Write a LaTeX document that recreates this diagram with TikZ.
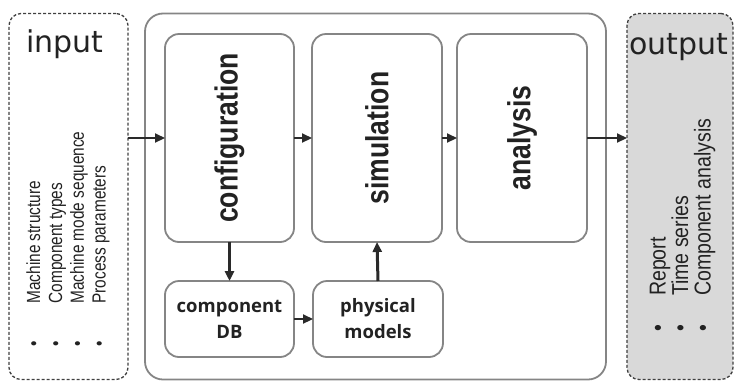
\documentclass[tikz,border=0pt]{standalone}
\usepackage{fontspec}
\setmainfont{Liberation Sans}
\newfontfamily\dvs{DejaVu Sans}
\newfontfamily\osans{Open Sans}
\newfontfamily\condA[FakeStretch=0.81]{Liberation Sans}
\newfontfamily\condB[FakeStretch=0.85]{Liberation Sans}
\newfontfamily\condC[FakeStretch=0.83]{Liberation Sans}
\usetikzlibrary{arrows.meta}
\definecolor{boxgray}{HTML}{858585}
\definecolor{arrgray}{HTML}{2A2A2A}
\definecolor{outfill}{HTML}{D9D9D9}
\definecolor{dashgray}{HTML}{404040}
\definecolor{txt}{HTML}{222222}
\begin{document}
\begin{tikzpicture}[x=1pt,y=-1pt,
  box/.style={draw=boxgray, line width=1.8pt, rounded corners=14pt, inner sep=0pt, outer sep=0pt},
  dashbox/.style={draw=dashgray, line width=1.3pt, dash pattern=on 3pt off 2pt, rounded corners=12pt, inner sep=0pt, outer sep=0pt},
  biglabel/.style={rotate=90, font=\condC\bfseries\fontsize{32}{36}\selectfont, text=txt, inner sep=0pt},
  smalllabel/.style={align=center, font=\osans\bfseries\fontsize{18.5}{26}\selectfont, text=txt, inner sep=0pt},
  arr/.style={draw=arrgray, line width=2.2pt, -{Triangle[length=10pt,width=9pt]}},
  varr/.style={arr, line width=3pt},
]
\useasboundingbox (0,0) rectangle (734,381);
% outer boxes
\node[dashbox, minimum width=119pt, minimum height=366pt] (inbox) at (68.5,196.5) {};
\node[box, rounded corners=18pt, minimum width=461pt, minimum height=366pt] (main) at (375.5,196.5) {};
\node[dashbox, fill=outfill, minimum width=106pt, minimum height=366pt] (outbox) at (680,196.5) {};
% inner boxes
\node[box, minimum width=129pt, minimum height=208pt] (conf) at (229.5,138) {};
\node[box, minimum width=130pt, minimum height=208pt] (sim) at (377,138) {};
\node[box, minimum width=130pt, minimum height=208pt] (ana) at (522,138) {};
\node[box, minimum width=129pt, minimum height=76pt] (db) at (229.5,319) {};
\node[box, minimum width=130pt, minimum height=76pt] (phys) at (378,319) {};
% labels
\node[biglabel] (confl) at (conf.center) {configuration};
\node[biglabel] (siml) at (sim.center) {simulation};
\node[biglabel] (anal) at (ana.center) {analysis};
\node[smalllabel] (dbl) at (db.center) {component\\DB};
\node[smalllabel] (physl) at (phys.center) {physical\\models};
\node[anchor=base west, inner sep=0pt, font=\dvs\fontsize{30}{36}\selectfont, text=txt] (inl) at (26,52) {input};
\node[anchor=base west, inner sep=0pt, font=\dvs\fontsize{30}{36}\selectfont, text=txt] (outl) at (629,54) {output};
\node[rotate=90, anchor=west, align=left, inner sep=0pt, font=\condA\fontsize{19}{21.8}\selectfont, text=txt] (inlist) at (68,347)
  {\textbullet\hspace{38pt}Machine structure\\\textbullet\hspace{38pt}Component types\\\textbullet\hspace{38pt}Machine mode sequence\\\textbullet\hspace{38pt}Process parameters};
\node[rotate=90, anchor=west, align=left, inner sep=0pt, font=\condB\fontsize{23}{22.5}\selectfont, text=txt] (outlist) at (682.5,332)
  {\textbullet\hspace{29pt}Report\\\textbullet\hspace{29pt}Time series\\\textbullet\hspace{29pt}Component analysis};
% connectors
\draw[arr] (inbox.east |- conf.west) -- (conf.west);
\draw[arr] (conf.east) -- (sim.west);
\draw[arr] (sim.east) -- (ana.west);
\draw[arr] (ana.east) -- (outbox.west |- ana.east);
\draw[varr] (conf.south) -- (db.north);
\draw[arr] (db.east) -- (phys.west);
\draw[varr] (phys.north) -- (sim.south);
\end{tikzpicture}
\end{document}
